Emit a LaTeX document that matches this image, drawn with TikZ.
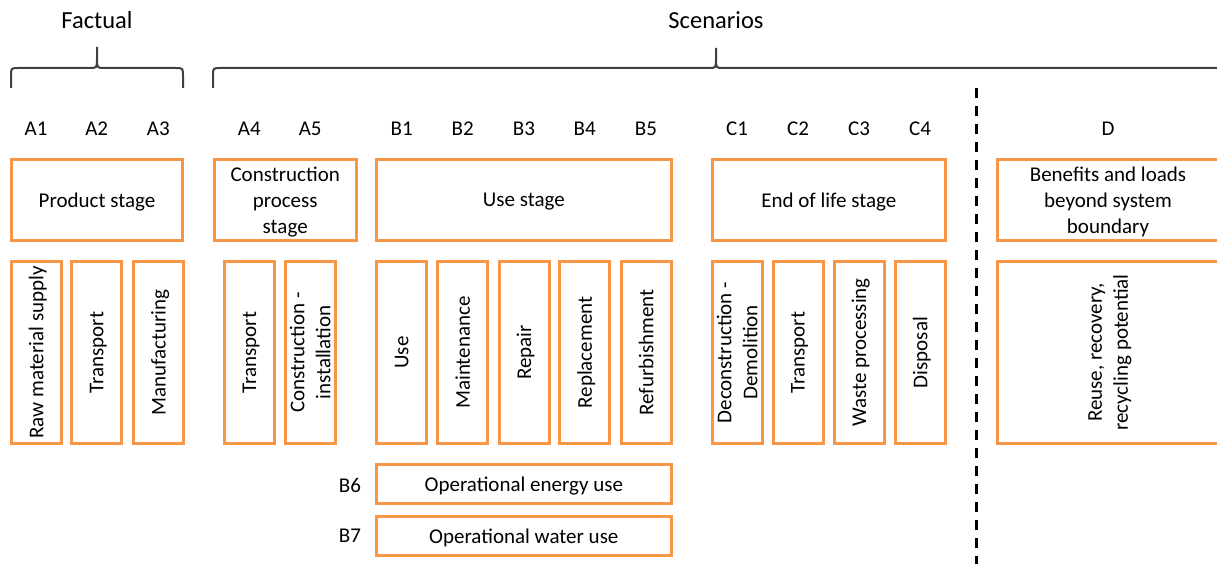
\documentclass[tikz,border=0pt]{standalone}
\usepackage{fontspec}
\setmainfont{Carlito}
\definecolor{boxorange}{HTML}{F79646}
\definecolor{bracegray}{HTML}{404040}
\begin{document}
\begin{tikzpicture}[x=1pt,y=-1pt,
  every node/.style={font=\fontsize{21}{26}\selectfont, text=black},
  stagebox/.style={draw=boxorange, line width=3pt, minimum height=80.5pt, align=center, inner sep=0pt, text depth=0pt},
  subbox/.style={draw=boxorange, line width=3pt, rotate=90, minimum width=182pt, minimum height=50pt, align=center, inner sep=0pt, text depth=0pt},
  opbox/.style={draw=boxorange, line width=3pt, minimum width=295pt, minimum height=39pt, inner sep=0pt, text depth=0pt},
  tag/.style={inner sep=0pt, anchor=center},
  heading/.style={inner sep=0pt, anchor=center, font=\fontsize{24.5}{29}\selectfont},
  bracepath/.style={draw=bracegray, line width=2pt},
  divider/.style={draw=black, line width=2.5pt, dash pattern=on 10pt off 8pt}]
\useasboundingbox (0,0) rectangle (1217,564);
\clip (0,0) rectangle (1217,564);

% headings
\node[heading] (factual) at (97,20) {Factual};
\node[heading] (scenarios) at (716,20) {Scenarios};

% braces
\path[bracepath] (11,88) -- (11,76) .. controls (11,68) .. (19,68) -- (90,68)
  .. controls (97,68) .. (97,58) -- (97,47)
  (97,58) .. controls (97,68) .. (104,68) -- (175,68)
  .. controls (183,68) .. (183,76) -- (183,88);
\path[bracepath] (213,88) -- (213,76) .. controls (213,68) .. (221,68) -- (709,68)
  .. controls (716,68) .. (716,58) -- (716,48)
  (716,58) .. controls (716,68) .. (723,68) -- (1230,68);

% module codes
\foreach \lab/\x in {A1/36,A2/96.7,A3/158.3,A4/249.3,A5/310.2,B1/401.7,B2/462.7,B3/524,B4/584.7,B5/646,C1/737,C2/798,C3/859,C4/920,D/1108}
  \node[tag] (code\lab) at (\x,128.5) {\lab};

% stage boxes
\node[stagebox, minimum width=171pt] (product) at (97,200) {Product stage};
\node[stagebox, minimum width=142pt] (constr) at (285.2,200) {Construction\\process\\stage};
\node[stagebox, minimum width=295pt] (usestage) at (523.8,200) {Use stage};
\node[stagebox, minimum width=233pt] (eol) at (828.8,200) {End of life stage};
\node[stagebox, minimum width=221pt] (benefits) at (1108,200) {Benefits and loads\\beyond system\\boundary};

% module boxes
\node[subbox] (a1) at (36,352.5) {Raw material supply};
\node[subbox] (a2) at (96.7,352.5) {Transport};
\node[subbox] (a3) at (158.3,352.5) {Manufacturing};
\node[subbox] (a4) at (249.3,352.5) {Transport};
\node[subbox] (a5) at (310.2,352.5) {Construction -\\installation};
\node[subbox] (b1) at (401.7,352.5) {Use};
\node[subbox] (b2) at (462.7,352.5) {Maintenance};
\node[subbox] (b3) at (524,352.5) {Repair};
\node[subbox] (b4) at (584.7,352.5) {Replacement};
\node[subbox] (b5) at (646,352.5) {Refurbishment};
\node[subbox] (c1) at (737,352.5) {Deconstruction -\\Demolition};
\node[subbox] (c2) at (798,352.5) {Transport};
\node[subbox] (c3) at (859,352.5) {Waste processing};
\node[subbox] (c4) at (920,352.5) {Disposal};
\node[subbox, minimum height=221pt] (d) at (1108,352.5) {Reuse, recovery,\\recycling potential};

% operational boxes
\node[opbox] (b6box) at (523.8,484.2) {Operational energy use};
\node[opbox] (b7box) at (523.8,536.2) {Operational water use};
\node[tag] (codeB6) at (350,485) {B6};
\node[tag] (codeB7) at (350,536) {B7};

% system boundary
\coordinate (divtop) at (976.5,88);
\coordinate (divbot) at (976.5,570);
\path[divider] (divtop) -- (divbot);
\end{tikzpicture}
\end{document}
